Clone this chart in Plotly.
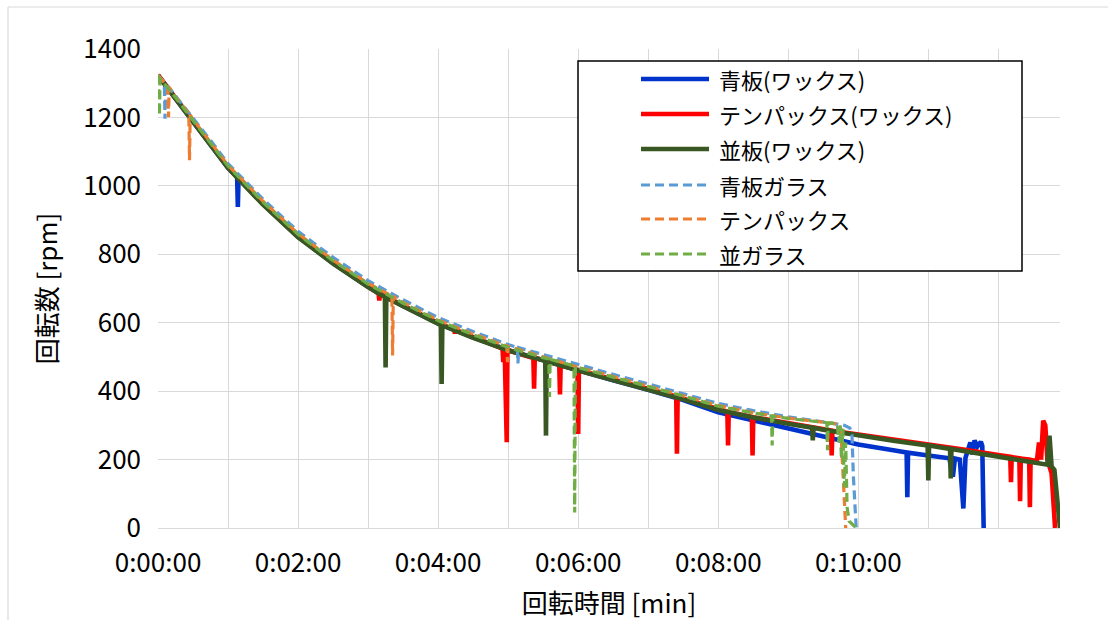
import plotly.graph_objects as go

# ---------------- data (time in minutes, rotation in rpm) ----------------
TICK_MINUTES = [0, 1, 2, 3, 4, 5, 6, 7, 8, 9, 10, 11, 12]
TICK_LABELS = ["0:00:00", "", "0:02:00", "", "0:04:00", "", "0:06:00", "",
               "0:08:00", "", "0:10:00", "", ""]
Y_TICKS = [0, 200, 400, 600, 800, 1000, 1200, 1400]

SERIES_NAMES = ["青板(ワックス)", "テンパックス(ワックス)", "並板(ワックス)",
                "青板ガラス", "テンパックス", "並ガラス"]
SERIES_COLORS = ["#0033CC", "#FF0000", "#385723", "#5B9BD5", "#ED7D31", "#70AD47"]
SERIES_DASHED = [False, False, False, True, True, True]

BLUE_WAX = [(0, 1323), (0.25, 1256), (0.5, 1189), (0.75, 1121), (1.0, 1053), (1.13, 1026),
            (1.14, 938), (1.15, 1024), (1.5, 947), (2.0, 851), (2.5, 774), (3.0, 705),
            (3.5, 649), (4.0, 598), (4.5, 557), (5.0, 520), (5.5, 490), (6.0, 460),
            (6.5, 432), (7.0, 404), (7.5, 374), (8.0, 338), (8.5, 314), (9.0, 292),
            (9.5, 268), (10.0, 244), (10.5, 227), (10.69, 221), (10.7, 90), (10.71, 220),
            (11.0, 212), (11.3, 204), (11.35, 150), (11.38, 203), (11.45, 200), (11.5, 57),
            (11.53, 205), (11.6, 250), (11.63, 215), (11.66, 256), (11.7, 238), (11.75, 252),
            (11.77, 240), (11.79, 0)]

TEMPAX_WAX = [(0, 1324), (0.25, 1257), (0.5, 1190), (0.75, 1122), (1.0, 1054), (1.5, 947),
              (2.0, 852), (2.5, 775), (3.0, 706), (3.15, 685), (3.16, 665), (3.17, 684),
              (3.5, 650), (4.0, 599), (4.23, 580), (4.24, 568), (4.25, 579), (4.5, 558),
              (4.92, 524), (4.93, 485), (4.95, 522), (4.98, 251), (4.99, 520), (5.36, 497),
              (5.37, 407), (5.38, 496), (5.5, 492), (5.73, 477), (5.74, 390), (5.75, 476),
              (5.99, 462), (6.0, 275), (6.01, 461), (6.5, 434), (7.0, 407), (7.4, 384),
              (7.41, 217), (7.42, 383), (7.5, 378), (8.0, 347), (8.13, 340), (8.14, 241),
              (8.15, 339), (8.48, 325), (8.49, 212), (8.5, 324), (9.0, 307), (9.5, 289),
              (9.61, 285), (9.62, 212), (9.63, 284), (10.0, 273), (10.5, 259), (11.0, 245),
              (11.5, 229), (12.0, 213), (12.17, 208), (12.18, 134), (12.19, 207), (12.3, 204),
              (12.31, 78), (12.32, 203), (12.44, 200), (12.45, 61), (12.46, 199), (12.55, 196),
              (12.58, 250), (12.61, 200), (12.64, 314), (12.67, 300), (12.7, 200), (12.76, 160),
              (12.81, 0)]

NAMIITA_WAX = [(0, 1323), (0.25, 1255), (0.5, 1188), (0.75, 1120), (1.0, 1052), (1.5, 945),
               (2.0, 850), (2.5, 773), (3.0, 704), (3.24, 675), (3.25, 469), (3.26, 673),
               (3.5, 648), (4.0, 597), (4.04, 593), (4.05, 421), (4.06, 592), (4.5, 556),
               (5.0, 519), (5.5, 490), (5.53, 488), (5.54, 270), (5.55, 487), (6.0, 460),
               (6.5, 432), (7.0, 405), (7.5, 376), (8.0, 345), (8.5, 323), (9.0, 305),
               (9.34, 293), (9.35, 256), (9.36, 293), (9.5, 287), (10.0, 270), (10.5, 255),
               (10.99, 241), (11.0, 139), (11.01, 241), (11.31, 231), (11.32, 145), (11.33, 231),
               (11.5, 225), (12.0, 209), (12.5, 194), (12.7, 185), (12.73, 270), (12.76, 180),
               (12.8, 170), (12.86, 60), (12.88, 0)]

BLUE_GLASS = [(0, 1323), (0.09, 1302), (0.1, 1196), (0.11, 1300), (0.25, 1263), (0.5, 1199),
              (0.75, 1133), (1.0, 1065), (1.5, 961), (2.0, 867), (2.5, 791), (3.0, 723),
              (3.5, 667), (4.0, 615), (4.5, 574), (5.0, 536), (5.13, 528), (5.14, 481),
              (5.15, 527), (5.5, 507), (6.0, 477), (6.5, 449), (7.0, 421), (7.5, 393),
              (8.0, 364), (8.5, 343), (9.0, 325), (9.5, 310), (9.8, 300), (9.88, 292),
              (9.91, 270), (9.93, 150), (9.95, 60), (9.97, 0)]

TEMPAX_GLASS = [(0, 1323), (0.14, 1290), (0.15, 1201), (0.16, 1288), (0.25, 1260), (0.44, 1212),
                (0.45, 1075), (0.46, 1208), (0.5, 1194), (0.75, 1128), (1.0, 1060), (1.5, 955),
                (2.0, 860), (2.5, 783), (3.0, 715), (3.34, 678), (3.35, 504), (3.36, 677),
                (3.5, 659), (4.0, 608), (4.5, 567), (4.98, 532), (4.99, 485), (5.0, 531),
                (5.5, 500), (6.0, 470), (6.5, 443), (7.0, 415), (7.5, 387), (8.0, 358),
                (8.5, 337), (9.0, 321), (9.5, 309), (9.7, 304), (9.75, 290), (9.78, 150),
                (9.8, 60), (9.82, 0)]

NAMI_GLASS = [(0, 1323), (0.01, 1318), (0.02, 1206), (0.03, 1314), (0.25, 1258), (0.5, 1192),
              (0.75, 1126), (1.0, 1058), (1.5, 952), (2.0, 858), (2.5, 781), (3.0, 713),
              (3.5, 657), (4.0, 606), (4.5, 565), (5.0, 528), (5.5, 498), (5.58, 494),
              (5.59, 383), (5.6, 493), (5.94, 474), (5.95, 45), (5.96, 473), (6.0, 469),
              (6.5, 441), (7.0, 414), (7.5, 386), (8.0, 356), (8.5, 336), (8.76, 328),
              (8.77, 241), (8.78, 327), (9.0, 320), (9.5, 309), (9.55, 308), (9.56, 227),
              (9.57, 307), (9.7, 305), (9.72, 250), (9.74, 300), (9.76, 200), (9.78, 290),
              (9.8, 120), (9.82, 250), (9.84, 60), (9.87, 20), (9.97, 0)]

ALL_SERIES = [BLUE_WAX, TEMPAX_WAX, NAMIITA_WAX, BLUE_GLASS, TEMPAX_GLASS, NAMI_GLASS]

# ---------------- layout geometry (pixels) ----------------
W, H = 1108, 620
PL, PR, PT, PB = 158, 1060, 49, 528
X_MAX = 12.88

def px(x, y):
    return (x - PL) / (PR - PL), (PB - y) / (PB - PT)

CJK = "Noto Sans CJK JP, Noto Sans, sans-serif"
GRID = "#D9D9D9"

fig = go.Figure()
for data, name, color, dashed in zip(ALL_SERIES, SERIES_NAMES, SERIES_COLORS, SERIES_DASHED):
    t = [p[0] for p in data]
    v = [p[1] for p in data]
    fig.add_trace(go.Scatter(
        x=t, y=v, mode="lines", name=name, showlegend=False,
        line=dict(color=color, width=3.2 if dashed else 4.6,
                  dash="9px,5px" if dashed else "solid"),
    ))

# manual legend (Excel style: long line samples in a black box)
shapes = []
annotations = []
bx0, by0 = px(578, 61)
bx1, by1 = px(1022, 271)
shapes.append(dict(type="rect", xref="paper", yref="paper", x0=bx0, y0=by1, x1=bx1, y1=by0,
                   line=dict(color="#000000", width=1.5), fillcolor="white", layer="above"))
row_y = [79, 114, 149, 185, 219, 254]
for ry, name, color, dashed in zip(row_y, SERIES_NAMES, SERIES_COLORS, SERIES_DASHED):
    lx0, ly = px(641, ry)
    lx1, _ = px(709, ry)
    shapes.append(dict(type="line", xref="paper", yref="paper", x0=lx0, x1=lx1, y0=ly, y1=ly,
                       layer="above",
                       line=dict(color=color, width=3.2 if dashed else 4.6,
                                 dash="9px,5px" if dashed else "solid")))
    tx, _ = px(717, ry)
    annotations.append(dict(xref="paper", yref="paper", x=tx, y=ly, xanchor="left",
                            yanchor="middle", showarrow=False, text=name,
                            font=dict(family=CJK, size=22, color="#000000")))

# outer chart-area border (left and top edges visible)
ox, oy = px(8, 7)
shapes.append(dict(type="line", xref="paper", yref="paper", x0=ox, x1=ox, y0=oy, y1=px(0, 640)[1],
                   line=dict(color=GRID, width=1.2)))
shapes.append(dict(type="line", xref="paper", yref="paper", x0=ox, x1=px(1120, 0)[0], y0=oy, y1=oy,
                   line=dict(color=GRID, width=1.2)))

fig.update_layout(
    width=W, height=H,
    margin=dict(l=PL, r=W - PR, t=PT, b=H - PB),
    paper_bgcolor="white", plot_bgcolor="white",
    showlegend=False,
    shapes=shapes, annotations=annotations,
    font=dict(family=CJK, color="#000000"),
    xaxis=dict(
        range=[0, X_MAX], tickmode="array", tickvals=TICK_MINUTES, ticktext=TICK_LABELS,
        showgrid=True, gridcolor=GRID, gridwidth=1.3, zeroline=False,
        showline=True, linecolor=GRID, linewidth=1.3, automargin=False,
        ticks="", tickfont=dict(family=CJK, size=26, color="#000000"),
        ticklabelstandoff=12,
        title=dict(text="回転時間 [min]", font=dict(family=CJK, size=26, color="#000000"),
                   standoff=18),
    ),
    yaxis=dict(
        range=[0, 1400], tickmode="array", tickvals=Y_TICKS,
        showgrid=True, gridcolor=GRID, gridwidth=1.3, zeroline=False,
        showline=False, automargin=False,
        ticks="", tickfont=dict(family=CJK, size=26, color="#000000"),
        ticklabelstandoff=16,
        title=dict(text="回転数 [rpm]", font=dict(family=CJK, size=26, color="#000000"),
                   standoff=18),
    ),
)

fig.write_html("out.html", config={"displayModeBar": False},
               post_script="document.body.style.margin='0px';document.body.style.overflow='hidden';")
